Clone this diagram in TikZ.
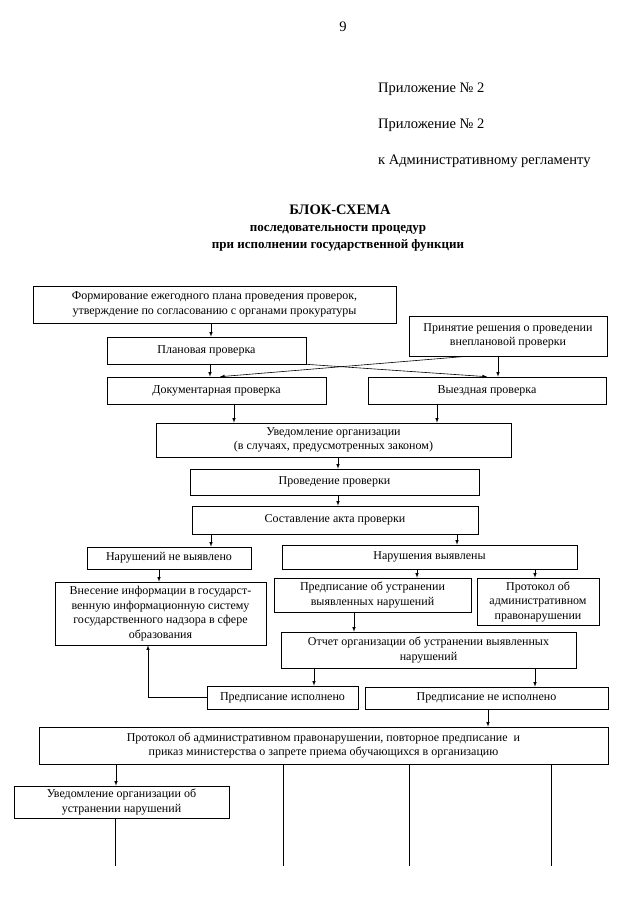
\documentclass[tikz,border=0pt]{standalone}
\usepackage{fontspec}
\setmainfont{Liberation Serif}
\usetikzlibrary{arrows}

\begin{document}
\begin{tikzpicture}[x=1pt,y=-1pt,
  blok/.style={draw, line width=0.6pt, align=center, inner sep=0pt,
    font=\fontsize{12}{14.5}\selectfont},
  shapka/.style={inner sep=0pt, align=center, font=\fontsize{14.5}{17}\selectfont},
  strelka/.style={-latex, line width=0.6pt},
  liniya/.style={line width=0.6pt}]
  \useasboundingbox (0,0) rectangle (640,905);

  % shapka
  \node[shapka] (nomer) at (343,27) {9};
  \node[shapka, anchor=west] (pril1) at (378,89) {Приложение № 2};
  \node[shapka, anchor=west] (pril2) at (378,125) {Приложение № 2};
  \node[shapka, anchor=west] (kreg) at (378,161) {к Административному регламенту};
  \node[shapka, anchor=base, font=\fontsize{14.5}{17}\bfseries] (zag1) at (340,214) {БЛОК-СХЕМА};
  \node[shapka, anchor=base, font=\fontsize{13}{16}\bfseries] (zag2) at (338,231) {последовательности процедур};
  \node[shapka, anchor=base, font=\fontsize{13}{16}\bfseries] (zag3) at (338,248) {при исполнении государственной функции};

  % bloki
  \node[blok, minimum width=363pt, minimum height=37pt] (form) at (214.5,304.5)
    {Формирование ежегодного плана проведения проверок,\\утверждение по согласованию с органами прокуратуры};
  \node[blok, minimum width=198pt, minimum height=40pt] (prin) at (508,336)
    {Принятие решения о проведении\\внеплановой проверки};
  \node[blok, minimum width=199pt, minimum height=27pt] (plan) at (206.5,350.5) {Плановая проверка};
  \node[blok, minimum width=219pt, minimum height=27pt] (dok) at (216.5,390.5) {Документарная проверка};
  \node[blok, minimum width=238pt, minimum height=27pt] (vyezd) at (487,390.5) {Выездная проверка};
  \node[blok, minimum width=355pt, minimum height=34pt] (uved) at (333.5,440)
    {Уведомление организации\\(в случаях, предусмотренных законом)};
  \node[blok, minimum width=289pt, minimum height=26pt] (prov) at (334.5,482) {Проведение проверки};
  \node[blok, minimum width=286pt, minimum height=28pt] (sost) at (335,520) {Составление акта проверки};
  \node[blok, minimum width=164pt, minimum height=22pt] (nenar) at (169,558) {Нарушений не выявлено};
  \node[blok, minimum width=295pt, minimum height=24pt] (nar) at (429.5,557) {Нарушения выявлены};
  \node[blok, minimum width=211pt, minimum height=63pt] (vnes) at (160.5,613.5)
    {Внесение информации в государст-\\венную информационную систему\\государственного надзора в сфере\\образования};
  \node[blok, minimum width=197pt, minimum height=34pt] (pred) at (372.5,595)
    {Предписание об устранении\\выявленных нарушений};
  \node[blok, minimum width=122pt, minimum height=47pt] (protok) at (538,601.5)
    {Протокол об\\административном\\правонарушении};
  \node[blok, minimum width=295pt, minimum height=36pt] (otchet) at (428.5,650)
    {Отчет организации об устранении выявленных\\нарушений};
  \node[blok, minimum width=151pt, minimum height=23pt] (isp) at (282.5,697.5) {Предписание исполнено};
  \node[blok, minimum width=243pt, minimum height=22pt] (neisp) at (486.5,698) {Предписание не исполнено};
  \node[blok, minimum width=569pt, minimum height=37pt] (bigprot) at (323.5,745.5)
    {Протокол об административном правонарушении, повторное предписание~ и\\приказ министерства о запрете приема обучающихся в организацию};
  \node[blok, minimum width=215pt, minimum height=32pt] (uvedob) at (121.5,802)
    {Уведомление организации об\\устранении нарушений};
  \coordinate (niz) at (0,866);

  % strelki
  \draw[strelka] (211,0 |- form.south) -- (211,0 |- plan.north);
  \draw[strelka] (210,0 |- plan.south) -- (210,0 |- dok.north);
  \draw[strelka] (498,0 |- prin.south) -- (498,0 |- vyezd.north);
  \draw[strelka] (467,0 |- prin.south) -- (220,0 |- dok.north);
  \draw[strelka] (plan.south east) -- (487,0 |- vyezd.north);
  \draw[strelka] (234,0 |- dok.south) -- (234,0 |- uved.north);
  \draw[strelka] (437,0 |- vyezd.south) -- (437,0 |- uved.north);
  \draw[strelka] (338,0 |- uved.south) -- (338,0 |- prov.north);
  \draw[strelka] (338,0 |- prov.south) -- (338,0 |- sost.north);
  \draw[strelka] (211,0 |- sost.south) -- (211,0 |- nenar.north);
  \draw[strelka] (457,0 |- sost.south) -- (457,0 |- nar.north);
  \draw[strelka] (159,0 |- nenar.south) -- (159,0 |- vnes.north);
  \draw[strelka] (417,0 |- nar.south) -- (417,0 |- pred.north);
  \draw[strelka] (535,0 |- nar.south) -- (535,0 |- protok.north);
  \draw[strelka] (354,0 |- pred.south) -- (354,0 |- otchet.north);
  \draw[strelka] (314,0 |- otchet.south) -- (314,0 |- isp.north);
  \draw[strelka] (535,0 |- otchet.south) -- (535,0 |- neisp.north);
  \draw[strelka] (isp.west) -- (148,0 |- isp.west) -- (148,0 |- vnes.south);
  \draw[strelka] (488,0 |- neisp.south) -- (488,0 |- bigprot.north);
  \draw[strelka] (116,0 |- bigprot.south) -- (116,0 |- uvedob.north);

  % linii vniz
  \draw[liniya] (115,0 |- uvedob.south) -- (115,0 |- niz);
  \draw[liniya] (283,0 |- bigprot.south) -- (283,0 |- niz);
  \draw[liniya] (409,0 |- bigprot.south) -- (409,0 |- niz);
  \draw[liniya] (551,0 |- bigprot.south) -- (551,0 |- niz);
\end{tikzpicture}
\end{document}
